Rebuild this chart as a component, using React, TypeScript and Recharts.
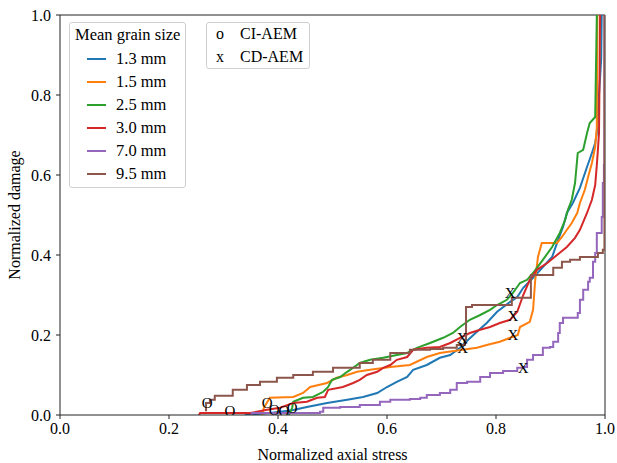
import { ComposedChart, Line, Scatter, XAxis, YAxis, ReferenceLine } from 'recharts'

const FONT = "'Liberation Serif', 'DejaVu Serif', serif"

// damage vs. normalized axial stress, one curve per mean grain size
const grain13: [number, number][] = [
  [0.339, 0], [0.385, 0.005], [0.426, 0.012], [0.453, 0.02], [0.49, 0.03], [0.527, 0.038],
  [0.556, 0.045], [0.582, 0.055], [0.6, 0.07], [0.618, 0.083], [0.637, 0.095], [0.648, 0.113],
  [0.673, 0.125], [0.697, 0.143], [0.716, 0.15], [0.734, 0.168], [0.749, 0.188], [0.765, 0.208],
  [0.783, 0.23], [0.802, 0.258], [0.826, 0.283], [0.839, 0.295], [0.85, 0.318], [0.868, 0.343],
  [0.886, 0.37], [0.903, 0.395], [0.914, 0.438], [0.923, 0.47], [0.93, 0.505], [0.941, 0.53],
  [0.954, 0.568], [0.967, 0.62], [0.976, 0.655], [0.982, 0.68], [0.985, 0.705], [0.987, 0.755],
  [0.993, 0.89], [0.994, 1.0],
]

const grain15: [number, number][] = [
  [0.371, 0], [0.374, 0.018], [0.385, 0.043], [0.428, 0.045], [0.446, 0.055], [0.459, 0.07],
  [0.49, 0.08], [0.508, 0.093], [0.527, 0.1], [0.545, 0.108], [0.569, 0.113], [0.606, 0.12],
  [0.642, 0.125], [0.673, 0.145], [0.697, 0.155], [0.739, 0.163], [0.765, 0.168], [0.783, 0.175],
  [0.807, 0.183], [0.826, 0.193], [0.84, 0.2], [0.844, 0.22], [0.862, 0.233], [0.868, 0.263],
  [0.872, 0.338], [0.877, 0.395], [0.884, 0.43], [0.912, 0.43], [0.921, 0.445], [0.93, 0.463],
  [0.939, 0.48], [0.949, 0.505], [0.954, 0.53], [0.963, 0.563], [0.969, 0.595], [0.976, 0.63],
  [0.982, 0.67], [0.985, 0.72], [0.986, 1.0],
]

const grain25: [number, number][] = [
  [0.42, 0], [0.426, 0.018], [0.428, 0.033], [0.446, 0.043], [0.464, 0.045], [0.483, 0.058],
  [0.492, 0.07], [0.499, 0.088], [0.514, 0.095], [0.527, 0.108], [0.538, 0.118], [0.55, 0.13],
  [0.569, 0.138], [0.593, 0.143], [0.618, 0.15], [0.637, 0.155], [0.655, 0.168], [0.679, 0.18],
  [0.703, 0.193], [0.721, 0.205], [0.734, 0.22], [0.752, 0.238], [0.771, 0.25], [0.789, 0.263],
  [0.802, 0.275], [0.82, 0.288], [0.831, 0.305], [0.844, 0.33], [0.857, 0.338], [0.868, 0.355],
  [0.886, 0.388], [0.903, 0.42], [0.917, 0.455], [0.927, 0.488], [0.932, 0.513], [0.939, 0.538],
  [0.945, 0.58], [0.95, 0.655], [0.96, 0.663], [0.967, 0.705], [0.972, 0.73], [0.982, 0.745],
  [0.985, 1.0],
]

const grain30: [number, number][] = [
  [0.255, 0], [0.257, 0.005], [0.349, 0.005], [0.38, 0.013], [0.404, 0.018], [0.428, 0.03],
  [0.453, 0.033], [0.472, 0.043], [0.486, 0.045], [0.492, 0.063], [0.519, 0.07], [0.538, 0.08],
  [0.55, 0.088], [0.563, 0.1], [0.582, 0.108], [0.593, 0.118], [0.606, 0.125], [0.618, 0.138],
  [0.637, 0.145], [0.648, 0.163], [0.673, 0.168], [0.697, 0.17], [0.716, 0.18], [0.734, 0.193],
  [0.752, 0.205], [0.771, 0.213], [0.789, 0.22], [0.807, 0.23], [0.826, 0.238], [0.839, 0.258],
  [0.85, 0.3], [0.862, 0.338], [0.875, 0.363], [0.894, 0.38], [0.912, 0.4], [0.93, 0.42],
  [0.945, 0.443], [0.954, 0.463], [0.967, 0.505], [0.976, 0.538], [0.982, 0.575], [0.985, 0.625],
  [0.987, 0.663], [0.989, 0.705], [0.991, 1.0],
]

const grain70: [number, number][] = [
  [0.349, 0], [0.352, 0.005], [0.477, 0.008], [0.483, 0.018], [0.514, 0.02], [0.55, 0.025],
  [0.587, 0.033], [0.606, 0.038], [0.642, 0.04], [0.661, 0.043], [0.673, 0.05], [0.697, 0.055],
  [0.716, 0.063], [0.728, 0.08], [0.747, 0.083], [0.771, 0.095], [0.789, 0.105], [0.813, 0.11],
  [0.839, 0.118], [0.85, 0.12], [0.857, 0.138], [0.868, 0.15], [0.886, 0.168], [0.899, 0.17],
  [0.905, 0.183], [0.914, 0.205], [0.917, 0.23], [0.923, 0.243], [0.941, 0.243], [0.95, 0.255],
  [0.954, 0.288], [0.96, 0.313], [0.969, 0.333], [0.972, 0.343], [0.978, 0.383], [0.982, 0.405],
  [0.985, 0.455], [0.994, 0.495], [0.996, 0.58], [0.998, 0.625], [0.999, 1.0],
]

const grain95: [number, number][] = [
  [0.266, 0.012], [0.268, 0.03], [0.275, 0.038], [0.284, 0.048], [0.317, 0.063], [0.343, 0.075],
  [0.367, 0.083], [0.398, 0.093], [0.428, 0.1], [0.464, 0.108], [0.501, 0.118], [0.55, 0.13],
  [0.574, 0.138], [0.606, 0.155], [0.642, 0.163], [0.679, 0.165], [0.703, 0.168], [0.728, 0.175],
  [0.743, 0.188], [0.745, 0.27], [0.756, 0.275], [0.826, 0.275], [0.829, 0.293], [0.862, 0.293],
  [0.864, 0.35], [0.894, 0.35], [0.905, 0.368], [0.921, 0.383], [0.936, 0.388], [0.954, 0.395],
  [0.987, 0.405], [0.996, 0.413], [0.999, 1.0],
]

// onset points: crack initiation and crack damage from acoustic emission
const ciAem: [number, number][] = [
  [0.27, 0.03], [0.312, 0.01], [0.38, 0.03], [0.393, 0.012], [0.411, 0.01], [0.426, 0.018],
]
const cdAem: [number, number][] = [
  [0.738, 0.193], [0.739, 0.168], [0.826, 0.305], [0.831, 0.248], [0.831, 0.2], [0.85, 0.118],
]

const ticks = [0, 0.2, 0.4, 0.6, 0.8, 1.0]

// brown and purple curves have coarse, clearly stepped increments
const series = [
  { name: '1.3 mm', color: '#1f77b4', pts: grain13, curve: 'linear' },
  { name: '1.5 mm', color: '#ff7f0e', pts: grain15, curve: 'linear' },
  { name: '2.5 mm', color: '#2ca02c', pts: grain25, curve: 'linear' },
  { name: '3.0 mm', color: '#d62728', pts: grain30, curve: 'linear' },
  { name: '7.0 mm', color: '#9467bd', pts: grain70, curve: 'stepAfter' },
  { name: '9.5 mm', color: '#8c564b', pts: grain95, curve: 'stepAfter' },
] as const

const toXY = (pts: readonly [number, number][]) => pts.map(([x, y]) => ({ x, y }))

const glyph = (ch: string) => (props: any) => (
  <text
    x={props.cx}
    y={props.cy}
    textAnchor="middle"
    dominantBaseline="central"
    style={{ fontFamily: FONT, fontSize: 15 }}
    fill="#000"
  >
    {ch}
  </text>
)

const tickStyle = { fontFamily: FONT, fontSize: 16, fill: '#000' }
const labelStyle = { fontFamily: FONT, fontSize: 16, fill: '#000' }

const boxStyle: React.CSSProperties = {
  position: 'absolute',
  border: '1px solid #d0d0d0',
  borderRadius: 3,
  background: 'rgba(255,255,255,0.85)',
  fontFamily: FONT,
  fontSize: 16,
  color: '#000',
  boxSizing: 'border-box',
}

export default function App() {
  return (
    <div style={{ position: 'absolute', left: 0, top: 0, width: 617, height: 463, background: '#fff', fontFamily: FONT }}>
      <ComposedChart width={617} height={463} margin={{ top: 15, right: 12, bottom: 0, left: 0 }} style={{ fontFamily: FONT }}>
        <XAxis
          type="number"
          dataKey="x"
          domain={[0, 1]}
          ticks={ticks}
          tickFormatter={(v: number) => v.toFixed(1)}
          height={48}
          tick={tickStyle}
          tickSize={4}
          tickMargin={4}
          stroke="#222"
          allowDataOverflow
          label={{ value: 'Normalized axial stress', position: 'insideBottom', offset: 3, style: labelStyle }}
        />
        <YAxis
          type="number"
          dataKey="y"
          domain={[0, 1]}
          ticks={ticks}
          tickFormatter={(v: number) => v.toFixed(1)}
          width={60}
          tick={tickStyle}
          tickSize={4}
          tickMargin={5}
          stroke="#222"
          allowDataOverflow
          label={{ value: 'Normalized damage', angle: -90, position: 'insideLeft', offset: 14, style: { ...labelStyle, textAnchor: 'middle' } }}
        />
        <ReferenceLine y={1} stroke="#222" />
        <ReferenceLine x={1} stroke="#222" />
        {series.map((s) => (
          <Line
            key={s.name}
            data={toXY(s.pts)}
            dataKey="y"
            type={s.curve}
            stroke={s.color}
            strokeWidth={2}
            dot={false}
            isAnimationActive={false}
          />
        ))}
        <Scatter data={toXY(ciAem)} dataKey="y" shape={glyph('O')} isAnimationActive={false} />
        <Scatter data={toXY(cdAem)} dataKey="y" shape={glyph('X')} isAnimationActive={false} />
      </ComposedChart>

      <div style={{ ...boxStyle, left: 69, top: 22, width: 117, height: 166 }}>
        <div style={{ position: 'absolute', left: 5, top: 2, fontSize: 16.5, whiteSpace: 'nowrap' }}>Mean grain size</div>
        {series.map((s, i) => (
          <div key={s.name} style={{ position: 'absolute', left: 17, top: 25 + i * 23, height: 21, display: 'flex', alignItems: 'center', whiteSpace: 'nowrap', fontSize: 16.5 }}>
            <span style={{ display: 'inline-block', width: 19, height: 2, background: s.color, marginRight: 10 }} />
            <span>{s.name}</span>
          </div>
        ))}
      </div>

      <div style={{ ...boxStyle, left: 206, top: 22, width: 104, height: 47 }}>
        <div style={{ position: 'absolute', left: 9, top: 2, whiteSpace: 'nowrap' }}>o</div>
        <div style={{ position: 'absolute', left: 33, top: 2, whiteSpace: 'nowrap' }}>CI-AEM</div>
        <div style={{ position: 'absolute', left: 9, top: 25, whiteSpace: 'nowrap' }}>x</div>
        <div style={{ position: 'absolute', left: 33, top: 25, whiteSpace: 'nowrap' }}>CD-AEM</div>
      </div>
    </div>
  )
}
